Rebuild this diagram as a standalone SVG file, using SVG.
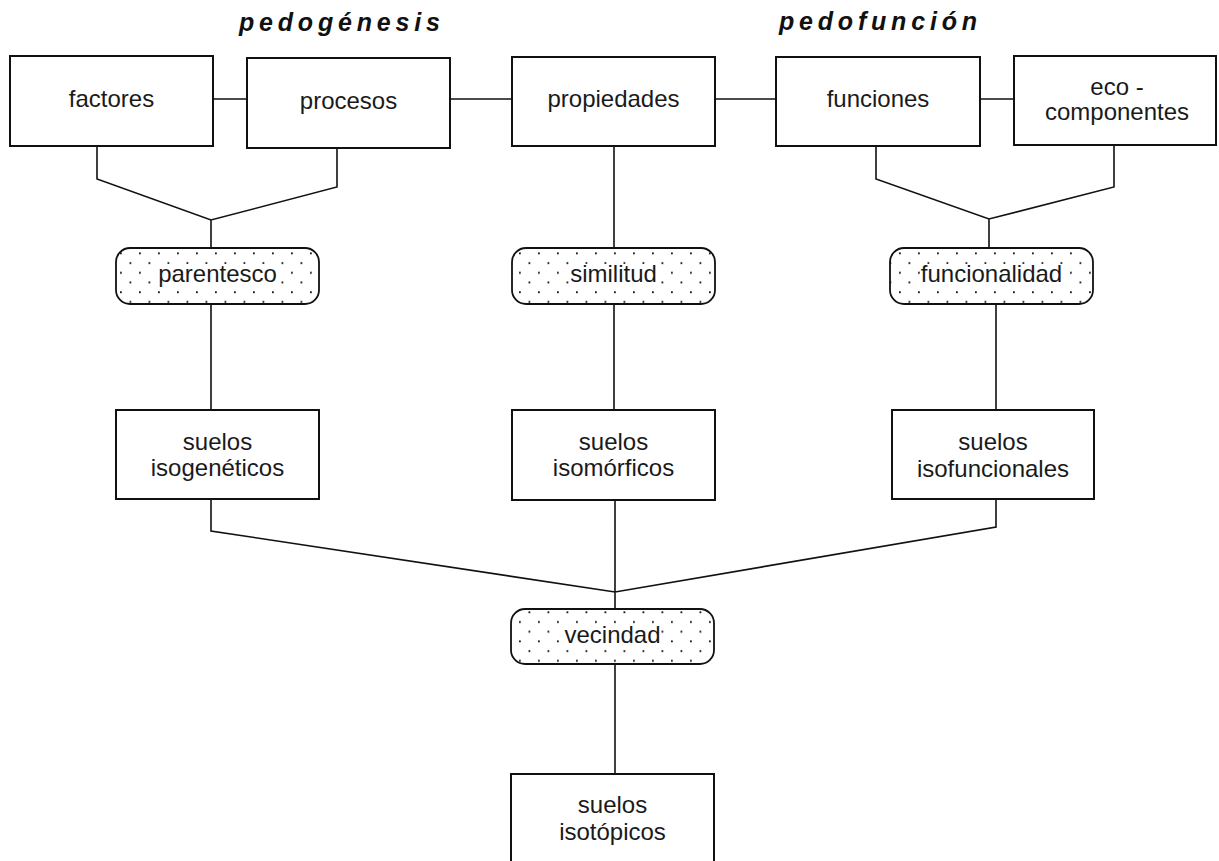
<svg xmlns="http://www.w3.org/2000/svg" width="1219" height="861" viewBox="0 0 1219 861">
<style>
.box{fill:#fff;stroke:#111;stroke-width:2}
.pill{fill:url(#dots);stroke:#111;stroke-width:1.8}
.lbl{font-family:"Liberation Sans",Arial,sans-serif;font-size:24px;fill:#1a1a1a;text-anchor:middle}
.ttl{font-family:"Liberation Sans",Arial,sans-serif;font-size:25px;font-weight:bold;font-style:italic;letter-spacing:4.8px;fill:#111}
.bg{fill:#fff}
#connectors path{fill:none;stroke:#111;stroke-width:1.6}
</style>
<defs>
<pattern id="dots" patternUnits="userSpaceOnUse" x="6" y="0" width="19" height="19.4">
<rect width="19" height="19.4" fill="#fff"/>
<rect x="0" y="0.3" width="1.8" height="1.8" fill="#111"/>
<rect x="9.5" y="10" width="1.8" height="1.8" fill="#111"/>
</pattern>
</defs>
<rect width="1219" height="861" fill="#fff"/>
<g id="titles">
<text class="ttl" x="239" y="31">pedogénesis</text>
<text class="ttl" x="779" y="30">pedofunción</text>
</g>
<g id="connectors">
<path d="M213 99H247M450 99H512M715 99H776M980 99H1014"/>
<path d="M97 146V179L211 220L337 187V148M211 220V248"/>
<path d="M614 146V248"/>
<path d="M876 146V179L989 219L1114 187V145M989 219V248"/>
<path d="M211 304V410M614 304V410M996 304V410"/>
<path d="M211 499V531L615 592L996 527V499M615 500V609"/>
<path d="M615 664V774"/>
</g>
<g id="factores"><rect class="box" x="10" y="56" width="203" height="90"/><text class="lbl" x="111.5" y="107">factores</text></g>
<g id="procesos"><rect class="box" x="247" y="58" width="203" height="90"/><text class="lbl" x="348.5" y="109">procesos</text></g>
<g id="propiedades"><rect class="box" x="512" y="57" width="203" height="89"/><text class="lbl" x="613.5" y="107">propiedades</text></g>
<g id="funciones"><rect class="box" x="776" y="57" width="204" height="89"/><text class="lbl" x="878" y="107">funciones</text></g>
<g id="ecocomponentes"><rect class="box" x="1014" y="56" width="202" height="89"/><text class="lbl" x="1117" y="95">eco -</text><text class="lbl" x="1117" y="120">componentes</text></g>
<g id="parentesco"><rect class="pill" x="116" y="248" width="203" height="56" rx="14"/><rect class="bg" x="158" y="264" width="120" height="23"/><text class="lbl" x="217.5" y="282">parentesco</text></g>
<g id="similitud"><rect class="pill" x="512" y="248" width="203" height="56" rx="14"/><rect class="bg" x="570" y="264" width="88" height="20"/><text class="lbl" x="613.5" y="282">similitud</text></g>
<g id="funcionalidad"><rect class="pill" x="890" y="248" width="203" height="56" rx="14"/><rect class="bg" x="920" y="264" width="143" height="20"/><text class="lbl" x="991.5" y="282">funcionalidad</text></g>
<g id="isogeneticos"><rect class="box" x="116" y="410" width="203" height="89"/><text class="lbl" x="217.5" y="450">suelos</text><text class="lbl" x="217.5" y="476">isogenéticos</text></g>
<g id="isomorficos"><rect class="box" x="512" y="410" width="203" height="90"/><text class="lbl" x="613.5" y="450">suelos</text><text class="lbl" x="613.5" y="476">isomórficos</text></g>
<g id="isofuncionales"><rect class="box" x="892" y="410" width="202" height="89"/><text class="lbl" x="993" y="450">suelos</text><text class="lbl" x="993" y="477">isofuncionales</text></g>
<g id="vecindad"><rect class="pill" x="511" y="609" width="203" height="55" rx="14"/><rect class="bg" x="564" y="625" width="97" height="20"/><text class="lbl" x="612.5" y="643">vecindad</text></g>
<g id="isotopicos"><rect class="box" x="511" y="774" width="203" height="95"/><text class="lbl" x="612.5" y="813">suelos</text><text class="lbl" x="612.5" y="840">isotópicos</text></g>
</svg>
